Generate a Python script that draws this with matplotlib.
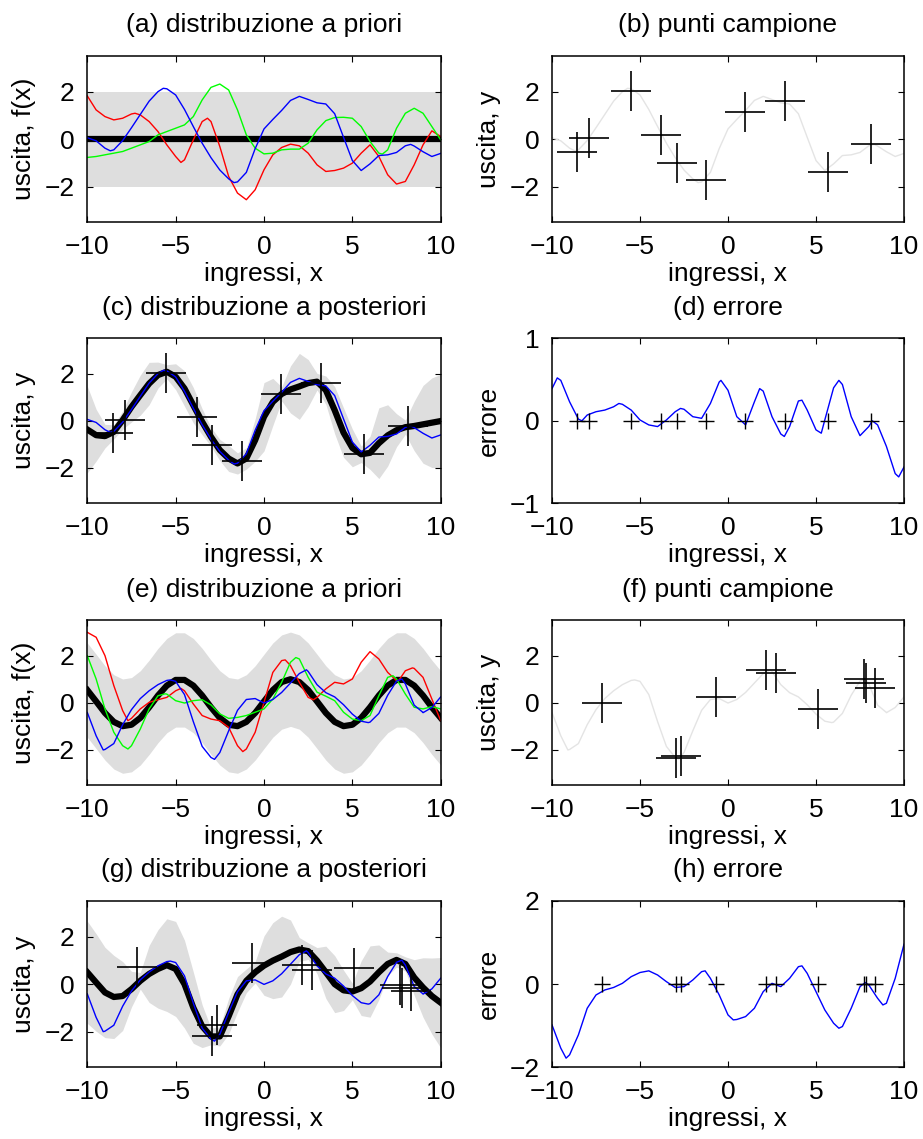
import numpy as np
import matplotlib
matplotlib.use("Agg")
import matplotlib.pyplot as plt

plt.rcParams['font.family'] = ['Liberation Sans', 'DejaVu Sans']
plt.rcParams['font.size'] = 19

# common input grid (values below are read every 0.5 along x)
X = np.linspace(-10, 10, 41)

# ---------------- first example (panels a-d) ----------------
prior1_mean = 0.0
prior1_hw = 2.0
a_red = [1.82, 1.23, 0.95, 0.81, 0.88, 1.06, 1.02, 0.74, 0.32, -0.24, -0.73, -0.87, -0.03, 0.74,
         0.74, -0.31, -1.57, -2.27, -2.55, -2.13, -1.29, -0.66, -0.35, -0.21, -0.28, -0.59, -1.08,
         -1.36, -1.32, -1.22, -1.01, -0.59, -0.24, -0.73, -1.50, -1.89, -1.78, -1.08, -0.24, 0.35, 0.11]
a_red_ext_x = [-7.3, -4.7, -3.2]
a_red_ext_y = [1.09, -0.98, 0.88]
a_green = [-0.77, -0.73, -0.66, -0.59, -0.52, -0.38, -0.24, -0.10, 0.18, 0.32, 0.46, 0.60, 0.95, 1.65,
           2.18, 2.32, 2.07, 1.23, 0.18, -0.38, -0.62, -0.59, -0.45, -0.42, -0.42, -0.17, 0.39, 0.78,
           0.91, 0.92, 0.88, 0.53, -0.10, -0.59, -0.45, 0.46, 1.09, 1.30, 1.09, 0.53, -0.03]
a_green_ext_x = [6.7]
a_green_ext_y = [-0.63]
true1 = [0.06, -0.07, -0.38, -0.45, -0.06, 0.48, 1.04, 1.60, 2.00, 2.12, 1.86, 1.25, 0.53, -0.17,
         -0.78, -1.30, -1.67, -1.80, -1.40, -0.40, 0.43, 0.83, 1.21, 1.63, 1.80, 1.67, 1.53, 1.48,
         1.07, 0.08, -0.90, -1.32, -1.04, -0.69, -0.66, -0.56, -0.28, -0.29, -0.53, -0.73, -0.60]
true1_ext_x = [-8.7, -5.7, -1.7, 8.3]
true1_ext_y = [-0.49, 2.14, -1.83, -0.22]
samp1_x = [-8.56, -7.88, -5.53, -3.81, -2.92, -1.27, 0.95, 3.24, 5.66, 8.14]
samp1_y = [-0.52, 0.03, 2.02, 0.18, -1.01, -1.71, 1.15, 1.62, -1.40, -0.22]
post1_mean = [-0.37, -0.61, -0.65, -0.47, 0.03, 0.59, 1.09, 1.58, 1.94, 2.08, 1.87, 1.37, 0.66, -0.04,
              -0.68, -1.24, -1.60, -1.81, -1.60, -0.82, 0.17, 0.80, 1.14, 1.33, 1.46, 1.60, 1.66, 1.30,
              0.45, -0.50, -1.15, -1.42, -1.36, -0.95, -0.62, -0.40, -0.27, -0.22, -0.15, -0.08, -0.01]
post1_hw = [1.84, 1.10, 0.50, 0.30, 0.39, 0.64, 0.85, 0.90, 0.55, 0.30, 0.55, 0.75, 0.75, 0.55,
            0.40, 0.45, 0.55, 0.45, 0.45, 0.90, 1.45, 1.00, 0.30, 1.00, 1.40, 1.00, 0.35, 0.60,
            1.00, 1.05, 0.80, 0.35, 0.70, 1.50, 1.30, 0.70, 0.30, 1.05, 1.65, 1.90, 1.98]
err1 = [0.39, 0.49, 0.23, 0.02, 0.07, 0.11, 0.13, 0.17, 0.20, 0.13, 0.01, -0.05, -0.07, 0.01,
        0.11, 0.14, 0.05, 0.03, 0.21, 0.47, 0.37, 0.05, -0.05, 0.23, 0.36, 0.05, -0.16, -0.07,
        0.24, 0.13, -0.11, 0.01, 0.40, 0.44, 0.05, -0.18, -0.07, -0.05, -0.31, -0.64, -0.56]
err1_ext_x = [-9.7, -8.3, -6.2, -2.7, -0.4, 1.8, 3.2, 4.2, 5.3, 6.3, 8.2, 9.7]
err1_ext_y = [0.52, 0.00, 0.21, 0.15, 0.49, 0.39, -0.19, 0.25, -0.15, 0.49, 0.00, -0.68]

# ---------------- second example (panels e-h) ----------------
prior2_mean = [0.54, 0.06, -0.43, -0.81, -0.99, -0.93, -0.64, -0.19, 0.31, 0.73, 0.97, 0.97, 0.73, 0.31,
               -0.19, -0.64, -0.93, -0.99, -0.81, -0.43, 0.06, 0.54, 0.88, 1.00, 0.88, 0.54, 0.06, -0.43,
               -0.81, -0.99, -0.93, -0.64, -0.19, 0.31, 0.73, 0.97, 0.97, 0.73, 0.31, -0.19, -0.64]
prior2_hw = 2.0
e_red = [2.99, 2.78, 2.00, 0.73, -0.33, -0.66, -0.26, 0.02, 0.13, 0.23, 0.51, 0.51, -0.05, -0.54,
         -0.69, -0.76, -1.04, -1.82, -1.96, -1.25, 0.02, 1.29, 1.79, 1.58, 0.87, 0.23, 0.23, 0.59,
         0.87, 0.80, 1.01, 1.72, 2.17, 1.86, 1.29, 0.94, 1.36, 1.46, 1.08, 0.16, -0.76]
e_red_ext_x = [-7.7, -4.7, -1.2, 1.2, 2.8, 7.6, 8.4]
e_red_ext_y = [-0.76, 0.61, -2.07, 1.82, 0.13, 0.92, 1.48]
e_green = [2.00, 1.01, -0.26, -1.25, -1.82, -1.82, -1.11, -0.26, 0.30, 0.37, 0.09, -0.01, 0.09, 0.13,
           -0.09, -0.47, -0.66, -0.62, -0.54, -0.40, -0.26, 0.16, 0.87, 1.72, 1.86, 1.08, 0.45, 0.28,
           0.09, -0.40, -0.69, -0.76, -0.54, 0.30, 1.08, 1.01, 0.37, -0.19, -0.26, -0.16, -0.26]
e_green_ext_x = [-7.7, -5.6, 1.8, 7.3]
e_green_ext_y = [-1.96, 0.38, 1.92, 1.15]
true2 = [-0.41, -1.40, -1.98, -1.73, -0.93, -0.29, 0.18, 0.51, 0.77, 0.95, 0.91, 0.35, -0.80, -1.85,
         -2.32, -2.11, -1.19, -0.32, 0.14, 0.18, -0.01, 0.14, 0.44, 0.84, 1.24, 1.33, 0.77, 0.43,
         0.25, -0.08, -0.48, -0.78, -0.82, -0.45, 0.32, 0.92, 0.80, -0.10, -0.41, -0.20, 0.25]
true2_ext_x = [-9.1, -5.3, -2.8, 2.4, 5.9, 7.8, 9.0]
true2_ext_y = [-2.00, 0.97, -2.40, 1.40, -0.84, 1.01, -0.42]
samp2_x = [-7.16, -2.97, -2.67, -0.70, 2.14, 2.71, 5.11, 7.72, 7.82, 8.33]
samp2_y = [-0.02, -2.34, -2.24, 0.23, 1.41, 1.25, -0.26, 1.00, 0.85, 0.61]
post2_obs_y = [0.72, -2.17, -1.73, 0.90, 0.81, 0.61, 0.68, -0.05, -0.15, -0.30]
post2_mean = [0.50, 0.07, -0.35, -0.54, -0.50, -0.21, 0.14, 0.43, 0.64, 0.80, 0.64, 0.00, -0.99, -1.77,
              -2.20, -2.20, -1.35, -0.43, 0.14, 0.50, 0.78, 0.99, 1.16, 1.35, 1.46, 1.39, 0.99, 0.50,
              0.00, -0.26, -0.31, -0.17, 0.11, 0.50, 0.85, 1.02, 0.85, 0.28, -0.14, -0.50, -0.78]
post2_hw = [2.15, 2.05, 1.90, 1.75, 1.45, 0.75, 0.35, 1.20, 1.65, 1.95, 2.00, 1.85, 1.50, 0.90,
            0.35, 0.40, 0.75, 0.75, 0.50, 0.45, 1.25, 1.60, 1.70, 1.35, 0.50, 0.35, 0.55, 1.10,
            1.20, 0.85, 0.35, 1.15, 1.50, 1.15, 0.50, 0.30, 0.30, 0.75, 1.25, 1.60, 1.90]
err2 = [-0.98, -1.54, -1.70, -1.22, -0.58, -0.26, -0.14, -0.08, 0.02, 0.18, 0.28, 0.32, 0.22, 0.06,
        -0.08, -0.06, 0.10, 0.30, 0.14, -0.26, -0.74, -0.85, -0.78, -0.58, -0.18, 0.02, -0.06, 0.14,
        0.42, 0.26, -0.18, -0.62, -0.94, -1.02, -0.58, -0.06, -0.02, -0.34, -0.46, 0.14, 0.96]
err2_ext_x = [-9.2, -1.3, 0.3, 4.2, 6.3, 7.8, 8.8]
err2_ext_y = [-1.78, 0.32, -0.86, 0.44, -1.06, 0.04, -0.50]

titles = ["(a) distribuzione a priori", "(b) punti campione",
          "(c) distribuzione a posteriori", "(d) errore",
          "(e) distribuzione a priori", "(f) punti campione",
          "(g) distribuzione a posteriori", "(h) errore"]
ylabels = ["uscita, f(x)", "uscita, y", "uscita, y", "errore",
           "uscita, f(x)", "uscita, y", "uscita, y", "errore"]
xlabel = "ingressi, x"
xticks = [-10, -5, 0, 5, 10]

BAND = '#dedede'
W, H = 923, 1139
fig = plt.figure(figsize=(W / 100, H / 100), dpi=100)

lefts = [87.3, 552.0]
widths = [353.4, 352.0]
rows = [(56.0, 222.3), (338.3, 503.3), (620.3, 785.3), (901.0, 1067.3)]

axes = []
for r, (top, bot) in enumerate(rows):
    for c in range(2):
        ax = fig.add_axes([lefts[c] / W, 1 - bot / H, widths[c] / W, (bot - top) / H])
        axes.append(ax)


def merged(y, ext_x=(), ext_y=()):
    """Combine the grid readings with the extra readings taken at peaks/troughs."""
    xs = np.concatenate([X, np.asarray(ext_x, float)])
    ys = np.concatenate([np.asarray(y, float), np.asarray(ext_y, float)])
    order = np.argsort(xs, kind='stable')
    return xs[order], ys[order]


def style(ax, i, ylim, yticks):
    ax.set_xlim(-10, 10)
    ax.set_ylim(*ylim)
    ax.set_xticks(xticks)
    ax.set_yticks(yticks)
    ax.tick_params(direction='in', top=True, right=True, length=4, width=0.8, pad=9, labelsize=19)
    for s in ax.spines.values():
        s.set_linewidth(1.1)
    ax.set_title(titles[i], fontsize=19, pad=17)
    ax.set_xlabel(xlabel, fontsize=19, labelpad=2)
    ax.set_ylabel(ylabels[i], fontsize=19, labelpad=6)


cross_big = dict(marker='+', linestyle='none', color='k', markersize=29, markeredgewidth=1.2)
cross_small = dict(marker='+', linestyle='none', color='k', markersize=12, markeredgewidth=1.0)
GREY_LINE = '#e4e4e4'

t1x, t1y = merged(true1, true1_ext_x, true1_ext_y)
t2x, t2y = merged(true2, true2_ext_x, true2_ext_y)

# (a)
ax = axes[0]
m = np.full_like(X, prior1_mean)
ax.fill_between(X, m - prior1_hw, m + prior1_hw, color=BAND, lw=0)
ax.plot(X, m, color='k', lw=4.5)
ax.plot(*merged(a_red, a_red_ext_x, a_red_ext_y), color='r', lw=1)
ax.plot(*merged(a_green, a_green_ext_x, a_green_ext_y), color='#00ff00', lw=1)
ax.plot(t1x, t1y, color='b', lw=1)
style(ax, 0, (-3.5, 3.5), [-2, 0, 2])

# (b)
ax = axes[1]
ax.plot(t1x, t1y, color=GREY_LINE, lw=1)
ax.plot(samp1_x, samp1_y, **cross_big)
style(ax, 1, (-3.5, 3.5), [-2, 0, 2])

# (c)
ax = axes[2]
pm = np.array(post1_mean); hw = np.array(post1_hw)
ax.fill_between(X, pm - hw, pm + hw, color=BAND, lw=0)
ax.plot(X, pm, color='k', lw=4.5)
ax.plot(t1x, t1y, color='b', lw=1)
ax.plot(samp1_x, samp1_y, **cross_big)
style(ax, 2, (-3.5, 3.5), [-2, 0, 2])

# (d)
ax = axes[3]
ax.plot(*merged(err1, err1_ext_x, err1_ext_y), color='b', lw=1)
ax.plot(samp1_x, np.zeros(len(samp1_x)), **cross_small)
style(ax, 3, (-1, 1), [-1, 0, 1])

# (e)
ax = axes[4]
pm = np.array(prior2_mean)
ax.fill_between(X, pm - prior2_hw, pm + prior2_hw, color=BAND, lw=0)
ax.plot(X, pm, color='k', lw=4.5)
ax.plot(*merged(e_red, e_red_ext_x, e_red_ext_y), color='r', lw=1)
ax.plot(*merged(e_green, e_green_ext_x, e_green_ext_y), color='#00ff00', lw=1)
ax.plot(t2x, t2y, color='b', lw=1)
style(ax, 4, (-3.5, 3.5), [-2, 0, 2])

# (f)
ax = axes[5]
ax.plot(t2x, t2y, color=GREY_LINE, lw=1)
ax.plot(samp2_x, samp2_y, **cross_big)
style(ax, 5, (-3.5, 3.5), [-2, 0, 2])

# (g)
ax = axes[6]
pm = np.array(post2_mean); hw = np.array(post2_hw)
ax.fill_between(X, pm - hw, pm + hw, color=BAND, lw=0)
ax.plot(X, pm, color='k', lw=4.5)
ax.plot(t2x, t2y, color='b', lw=1)
ax.plot(samp2_x, post2_obs_y, **cross_big)
style(ax, 6, (-3.5, 3.5), [-2, 0, 2])

# (h)
ax = axes[7]
ax.plot(*merged(err2, err2_ext_x, err2_ext_y), color='b', lw=1)
ax.plot(samp2_x, np.zeros(len(samp2_x)), **cross_small)
style(ax, 7, (-2, 2), [-2, 0, 2])

fig.savefig("out.png", dpi=100)
